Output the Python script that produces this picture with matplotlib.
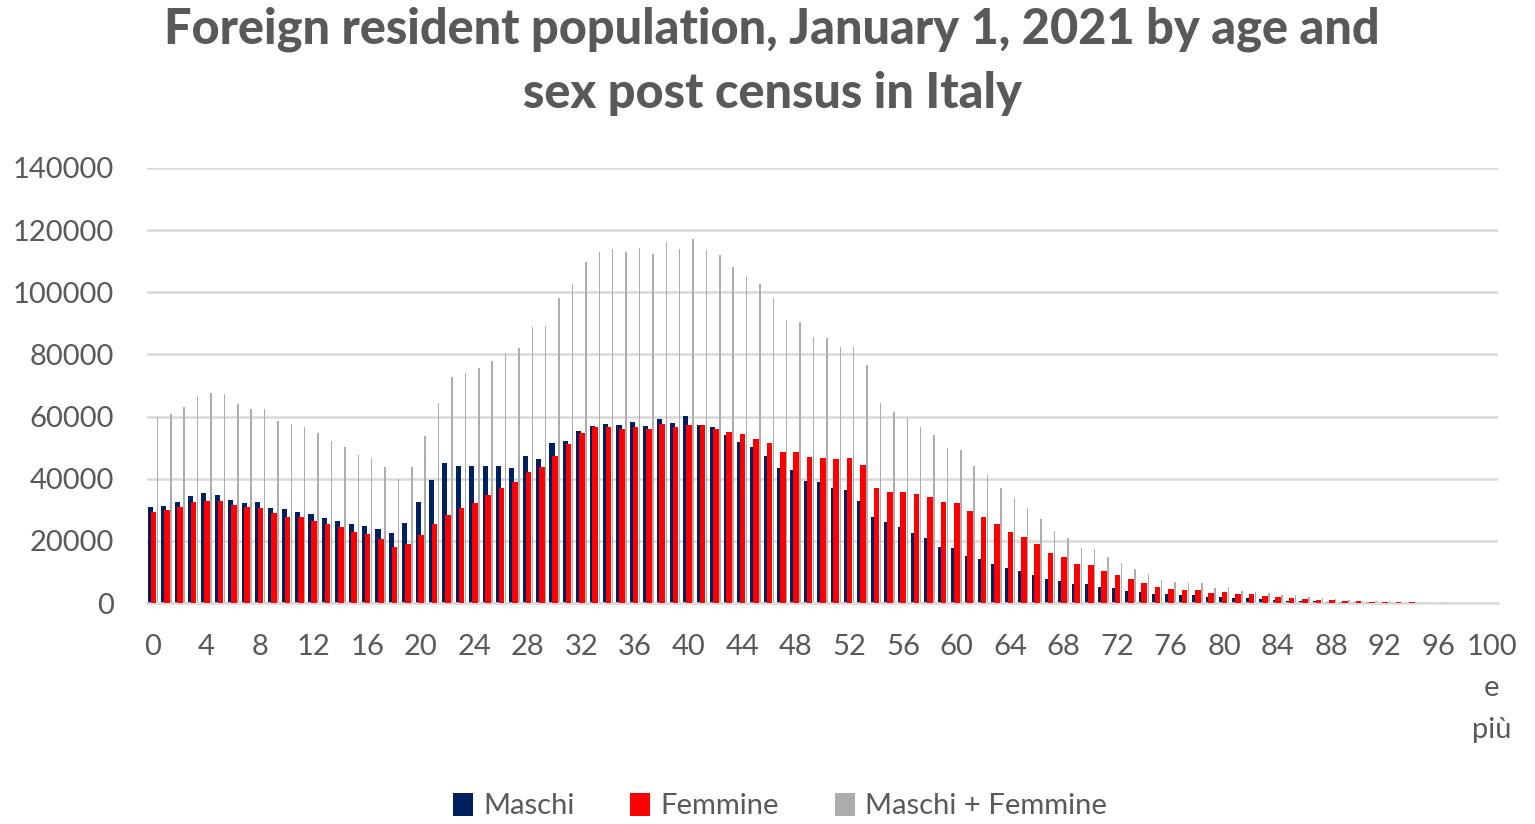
import matplotlib
matplotlib.use("Agg")
import matplotlib.pyplot as plt
import numpy as np

ages = [str(i) for i in range(100)] + ["100\ne\npiù"]

maschi = [31.0, 31.3, 32.6, 34.4, 35.3, 34.8, 33.2, 32.3, 32.6, 30.7,
          30.1, 29.4, 28.5, 27.5, 26.5, 25.4, 24.8, 23.7, 22.6, 25.8,
          32.6, 39.6, 45.0, 44.1, 44.1, 44.1, 44.1, 43.6, 47.3, 46.2,
          51.4, 52.1, 55.5, 57.1, 57.6, 57.3, 58.1, 57.0, 59.2, 58.0,
          60.3, 57.3, 56.6, 54.1, 51.9, 50.3, 47.3, 43.4, 42.8, 39.4,
          39.0, 37.1, 36.4, 32.8, 27.8, 26.2, 24.6, 22.4, 20.8, 18.1,
          17.8, 15.2, 14.2, 12.5, 11.2, 10.3, 9.0, 7.7, 7.1, 6.0,
          6.0, 5.0, 4.7, 4.0, 3.4, 2.9, 2.8, 2.6, 2.5, 1.8,
          2.0, 1.5, 1.5, 1.2, 1.0, 0.8, 0.6, 0.5, 0.4, 0.3,
          0.25, 0.2, 0.15, 0.1, 0.08, 0.06, 0.05, 0.04, 0.03, 0.02,
          0.03]
femmine = [29.4, 29.9, 31.0, 32.6, 32.8, 32.9, 31.5, 30.8, 30.5, 28.9,
           27.8, 27.6, 26.5, 25.4, 24.4, 23.0, 22.2, 20.6, 17.9, 19.0,
           21.9, 25.4, 28.3, 30.5, 32.3, 34.7, 37.1, 38.8, 42.1, 43.9,
           47.3, 51.2, 54.8, 56.7, 56.7, 56.0, 56.7, 56.0, 57.6, 56.7,
           57.3, 57.3, 56.0, 54.9, 54.3, 52.8, 51.4, 48.5, 48.5, 46.9,
           46.6, 46.2, 46.8, 44.4, 37.1, 35.8, 35.8, 35.1, 34.0, 32.4,
           32.1, 29.6, 27.8, 25.4, 23.0, 21.1, 18.9, 16.2, 14.7, 12.6,
           12.2, 10.4, 9.0, 7.7, 6.5, 5.1, 4.5, 4.2, 4.2, 3.3,
           3.6, 2.9, 2.8, 2.3, 2.0, 1.7, 1.4, 1.1, 0.9, 0.7,
           0.55, 0.45, 0.35, 0.25, 0.2, 0.15, 0.12, 0.1, 0.07, 0.05,
           0.08]
totale = [59.8, 60.7, 63.0, 66.6, 67.5, 67.3, 64.0, 62.4, 62.3, 58.6,
          57.5, 56.7, 54.6, 52.1, 50.3, 47.6, 46.6, 43.9, 39.8, 43.9,
          53.8, 64.3, 72.6, 73.9, 75.5, 78.0, 80.6, 82.0, 88.7, 89.2,
          98.1, 102.7, 109.9, 113.1, 113.8, 112.9, 114.4, 112.2, 116.3, 113.8,
          117.1, 113.6, 112.0, 108.2, 105.3, 102.7, 98.1, 91.1, 90.5, 85.7,
          85.4, 82.5, 82.3, 76.6, 64.3, 61.4, 59.6, 56.7, 54.1, 49.8,
          49.2, 44.2, 41.3, 36.9, 33.9, 30.7, 27.0, 23.2, 21.0, 17.6,
          17.3, 14.7, 13.0, 10.9, 9.2, 7.4, 6.7, 6.5, 6.3, 4.7,
          5.2, 3.9, 3.6, 3.1, 2.6, 2.5, 2.0, 1.6, 1.3, 1.0,
          0.8, 0.65, 0.5, 0.35, 0.28, 0.21, 0.17, 0.14, 0.1, 0.07,
          0.11]

maschi = np.array(maschi) * 1000
femmine = np.array(femmine) * 1000
totale = np.array(totale) * 1000

TEXT = "#595959"
plt.rcParams['font.family'] = ['Lato', 'DejaVu Sans']

fig = plt.figure(figsize=(15.35, 8.24), dpi=100)
ax = fig.add_axes([147/1535, 1 - 603/824, (1498-147)/1535, (603-168)/824])

x = np.arange(len(ages))
ax.bar(x - 0.20, maschi, width=0.38, color="#002060", label="Maschi", zorder=2)
ax.bar(x + 0.03, femmine, width=0.42, color="#ff0000", label="Femmine", zorder=3)
ax.bar(x + 0.33, totale, width=0.11, color="#adadad", label="Maschi + Femmine", zorder=2)

ax.set_xlim(-0.45, len(ages) - 0.55)
ax.set_ylim(0, 140000)
ax.set_yticks(np.arange(0, 140001, 20000))
ax.set_yticklabels([str(v) for v in range(0, 140001, 20000)])
ax.set_xticks(x[::4])
ax.set_xticklabels([ages[i] for i in range(0, len(ages), 4)])
ax.tick_params(axis='both', length=0, labelsize=21, colors=TEXT)
ax.tick_params(axis='x', pad=22)
ax.tick_params(axis='y', pad=24)
for lbl in ax.get_xticklabels():
    lbl.set_linespacing(1.75)

ax.grid(axis='y', color="#d9d9d9", linewidth=1.8, zorder=0)
ax.set_axisbelow(True)
for s in ['top', 'right', 'left']:
    ax.spines[s].set_visible(False)
ax.spines['bottom'].set_color("#d9d9d9")
ax.spines['bottom'].set_linewidth(1.8)

fig.text(0.503, 0.992, "Foreign resident population, January 1, 2021 by age and\nsex post census in Italy",
         ha='center', va='top', fontsize=35, fontweight='black', color=TEXT, linespacing=1.5)

leg = fig.legend(loc='center', bbox_to_anchor=(0.508, 0.022), ncol=3, frameon=False,
                 fontsize=21, handlelength=0.7, handleheight=0.85, handletextpad=0.35,
                 columnspacing=1.9)
for t in leg.get_texts():
    t.set_color(TEXT)

fig.savefig("out.png", dpi=100, facecolor="white")
